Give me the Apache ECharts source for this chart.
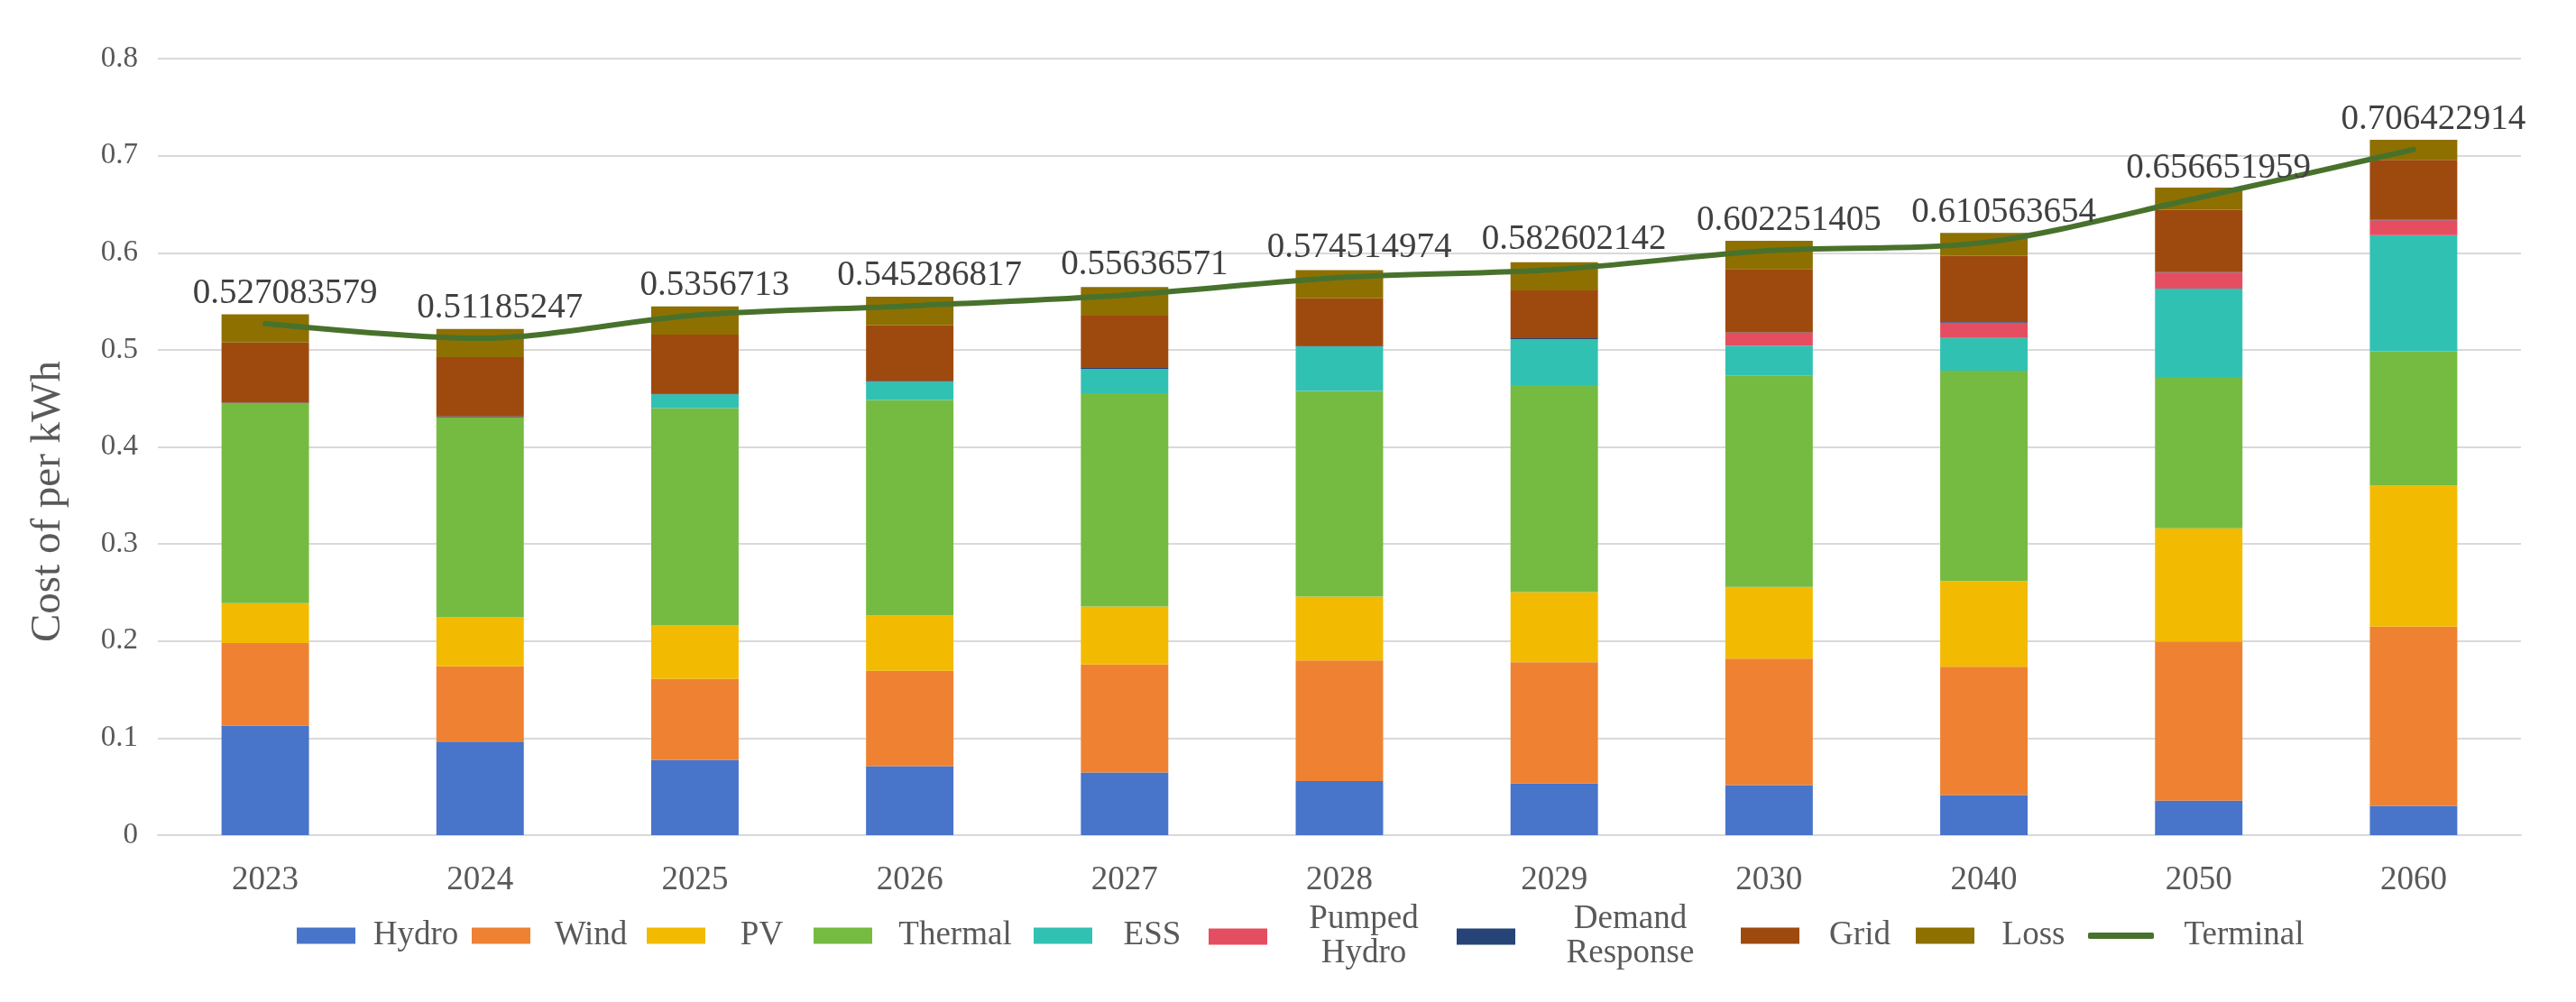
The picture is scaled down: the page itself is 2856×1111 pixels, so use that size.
<!DOCTYPE html>
<html>
<head>
<meta charset="utf-8">
<script src="https://cdn.jsdelivr.net/npm/echarts@6/dist/echarts.min.js"></script>
<style>
html,body{margin:0;padding:0;background:#fff;}
#chart{width:2856px;height:1111px;}
</style>
</head>
<body>
<div id="chart"></div>
<script>
var categories = ['2023','2024','2025','2026','2027','2028','2029','2030','2040','2050','2060'];
var hydro    = [0.113, 0.0965, 0.0776, 0.071, 0.0645, 0.0557, 0.0533, 0.0515, 0.0414, 0.0355, 0.0302];
var wind     = [0.085, 0.0775, 0.0834, 0.0983, 0.1113, 0.1243, 0.1249, 0.1303, 0.1321, 0.164, 0.1847];
var pv       = [0.041, 0.0504, 0.0551, 0.0569, 0.0598, 0.0657, 0.0722, 0.074, 0.0882, 0.1167, 0.1451];
var thermal  = [0.206, 0.206, 0.2238, 0.222, 0.2197, 0.212, 0.2132, 0.2179, 0.2167, 0.1557, 0.1385];
var ess      = [0, 0, 0.0142, 0.0189, 0.0249, 0.0456, 0.0474, 0.0307, 0.0337, 0.0911, 0.1196];
var pumped   = [0, 0, 0, 0, 0, 0, 0, 0.0131, 0.016, 0.0166, 0.0154];
var demand   = [0.0005, 0.001, 0.001, 0.001, 0.001, 0.001, 0.001, 0.0005, 0.0005, 0.0005, 0.0005];
var gridCost = [0.062, 0.061, 0.0606, 0.0571, 0.054, 0.0487, 0.0493, 0.0652, 0.0682, 0.064, 0.0617];
var loss     = [0.029, 0.029, 0.029, 0.0296, 0.0296, 0.029, 0.029, 0.029, 0.0237, 0.0231, 0.0207];
var terminal = [0.527083579, 0.51185247, 0.5356713, 0.545286817, 0.55636571, 0.574514974, 0.582602142, 0.602251405, 0.610563654, 0.656651959, 0.706422914];
var yTicks = { min: 0, max: 0.8, interval: 0.1 };

var FONT = 'Liberation Serif';
var barSeriesDefs = [
  { name: 'Hydro', data: hydro, color: '#4874C9' },
  { name: 'Wind', data: wind, color: '#EE8232' },
  { name: 'PV', data: pv, color: '#F2BB02' },
  { name: 'Thermal', data: thermal, color: '#75BB42' },
  { name: 'ESS', data: ess, color: '#31C1B3' },
  { name: 'Pumped Hydro', data: pumped, color: '#E54E61' },
  { name: 'Demand Response', data: demand, color: '#264478' },
  { name: 'Grid', data: gridCost, color: '#9E4A0E' },
  { name: 'Loss', data: loss, color: '#8E7000' }
];

var series = barSeriesDefs.map(function (d) {
  return {
    name: d.name, type: 'bar', stack: 'cost', data: d.data,
    barWidth: '40.7%', itemStyle: { color: d.color }, emphasis: { disabled: true }
  };
});
series.push({
  name: 'Terminal', type: 'line', data: terminal, smooth: 0.3,
  symbol: 'circle', symbolSize: 1, showSymbol: true,
  lineStyle: { color: '#48722C', width: 6, cap: 'round' },
  itemStyle: { color: '#48722C' },
  label: {
    show: true, position: 'top', distance: 13, offset: [22, 0],
    color: '#404040', fontFamily: FONT, fontSize: 39
  },
  z: 5
});

// legend layout: [name, left, slot width, display text]
var legendLayout = [
  ['Hydro', 324, 124, 'Hydro'],
  ['Wind', 518, 124, 'Wind'],
  ['PV', 712, 115, 'PV'],
  ['Thermal', 897, 174, 'Thermal'],
  ['ESS', 1141, 123, 'ESS'],
  ['Pumped Hydro', 1335, 204, 'Pumped\nHydro'],
  ['Demand Response', 1610, 245, 'Demand\nResponse'],
  ['Grid', 1925, 124, 'Grid'],
  ['Loss', 2119, 121, 'Loss'],
  ['Terminal', 2310, 190, 'Terminal']
];
var legends = legendLayout.map(function (l) {
  var isLine = l[0] === 'Terminal';
  var twoLine = l[3].indexOf('\n') >= 0;
  return {
    data: [{ name: l[0], icon: isLine ? 'roundRect' : 'rect' }],
    left: l[1], top: twoLine ? 996 : 1014,
    itemWidth: isLine ? 73 : 65, itemHeight: isLine ? 7 : 18,
    selectedMode: false,
    formatter: function () {
      return l[3].split('\n').map(function (s) { return '{t|' + s + '}'; }).join('\n');
    },
    textStyle: {
      color: '#595959', fontFamily: FONT, fontSize: 37,
      rich: { t: { width: l[2], align: 'center', fontFamily: FONT, fontSize: 37, lineHeight: 38, color: '#595959' } }
    }
  };
});

var chart = echarts.init(document.getElementById('chart'), null, { renderer: 'canvas' });
chart.setOption({
  animation: false,
  backgroundColor: '#ffffff',
  grid: { left: 175, right: 61, top: 65, bottom: 185, containLabel: false },
  legend: legends,
  xAxis: {
    type: 'category', data: categories,
    axisLine: { lineStyle: { color: '#D9D9D9', width: 2 } },
    axisTick: { show: false },
    axisLabel: { color: '#595959', fontFamily: FONT, fontSize: 37, margin: 32 }
  },
  yAxis: {
    type: 'value', min: yTicks.min, max: yTicks.max, interval: yTicks.interval,
    axisLine: { show: false }, axisTick: { show: false },
    splitLine: { lineStyle: { color: '#D9D9D9', width: 2 } },
    axisLabel: { color: '#595959', fontFamily: FONT, fontSize: 33, margin: 22 }
  },
  graphic: [{
    type: 'text', x: 54, y: 556, rotation: Math.PI / 2,
    style: {
      text: 'Cost of per kWh', fill: '#595959', font: '47px "Liberation Serif"',
      textAlign: 'center', textVerticalAlign: 'middle'
    }
  }],
  series: series
});
</script>
</body>
</html>
